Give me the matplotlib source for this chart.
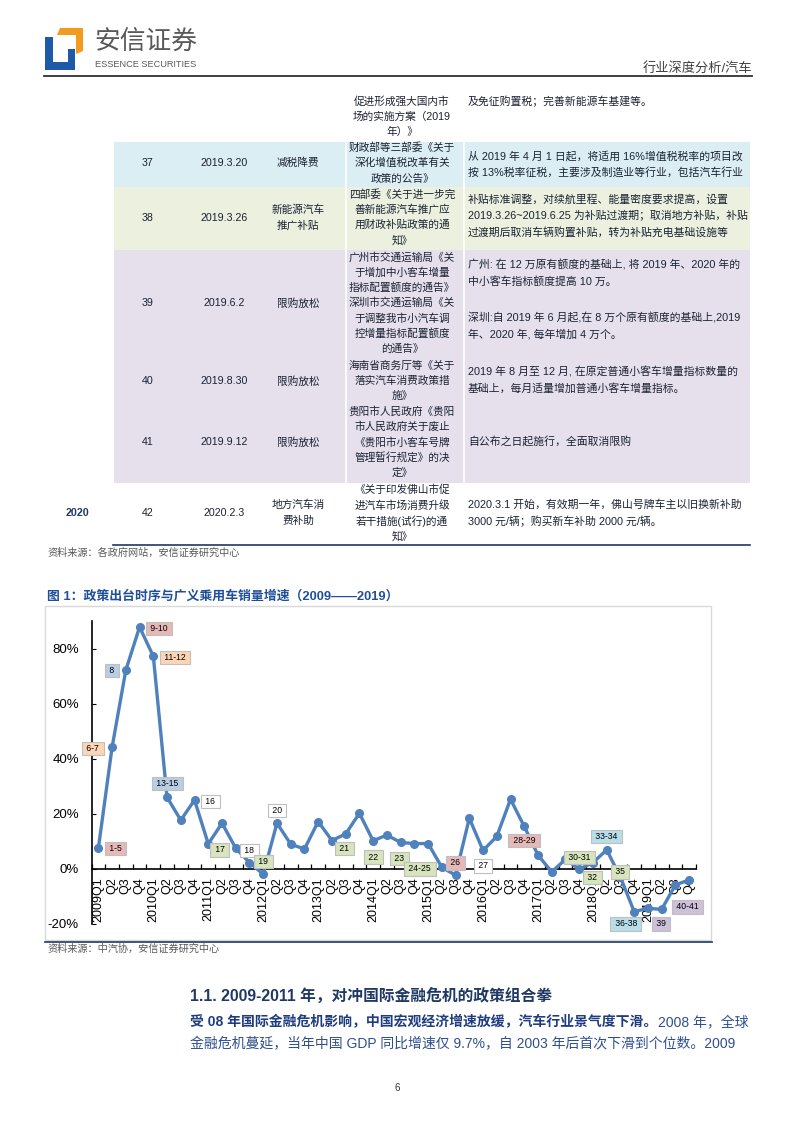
import numpy as np
import matplotlib.pyplot as plt
from matplotlib.patches import Rectangle, Polygon

plt.rcParams['font.family'] = ['Liberation Sans', 'Noto Sans CJK SC']

# ---------------- data ----------------
years = list(range(2009, 2020))
quarter_labels = []
for y in years:
    quarter_labels += [f"{y}Q1", "Q2", "Q3", "Q4"]

growth = [7.5, 44.2, 72.2, 87.8,
          77.2, 26.0, 17.7, 25.0,
          9.1, 16.6, 7.5, 2.3,
          -1.9, 16.6, 9.0, 7.2,
          17.2, 10.3, 12.7, 20.2,
          10.2, 12.3, 9.6, 9.2,
          9.2, 0.6, -2.3, 18.4,
          6.7, 11.8, 25.3, 15.4,
          5.0, -1.1, 3.5, -0.1,
          2.3, 6.9, -3.0, -15.5,
          -14.3, -14.7, -5.8, -4.0]

y_ticks = [-20, 0, 20, 40, 60, 80]
y_ticklabels = ["-20%", "0%", "20%", "40%", "60%", "80%"]

# policy number tags on the chart
tag_text = ["1-5", "6-7", "8", "9-10", "11-12", "13-15", "16", "17", "18", "19",
            "20", "21", "22", "23", "24-25", "26", "27", "28-29", "30-31", "32",
            "33-34", "35", "36-38", "39", "40-41"]
tag_x = [1.26, -0.39, 0.99, 4.41, 5.58, 5.0, 8.16, 8.83, 11.0, 12.0,
         13.0, 17.9, 20.0, 21.9, 23.4, 25.97, 28.0, 30.98, 35.0, 35.98,
         37.0, 37.97, 38.4, 40.95, 42.9]
tag_y = [7.4, 43.7, 72.1, 87.4, 76.8, 30.9, 24.4, 6.9, 6.7, 2.8,
         21.1, 7.3, 4.3, 3.7, 0.0, 2.2, 1.1, 10.4, 4.2, -3.0,
         11.8, -1.1, -20.0, -20.0, -13.8]
tag_kind = ["pink", "peach", "steel", "pink", "peach", "steel", "white", "green", "white", "green",
            "white", "green", "green", "green", "green", "pink", "white", "pink", "green", "green",
            "cyan", "green", "cyan", "lav", "lav"]
tag_colors = {"pink": "#e6b9b8", "peach": "#fcd5b5", "steel": "#b9cde5", "white": "white",
              "green": "#d7e4bd", "cyan": "#b7dee8", "lav": "#ccc0da"}

# table (continuation of row 36 + rows 37-42)
tail_policy = ["促进形成强大国内市", "场的实施方案（2019", "年）》"]
tail_detail = ["及免征购置税；完善新能源车基建等。"]
row_nums = ["37", "38", "39", "40", "41", "42"]
row_dates = ["2019.3.20", "2019.3.26", "2019.6.2", "2019.8.30", "2019.9.12", "2020.2.3"]
row_types = [["减税降费"], ["新能源汽车", "推广补贴"], ["限购放松"], ["限购放松"],
             ["限购放松"], ["地方汽车消", "费补助"]]
row_policies = [
    ["财政部等三部委《关于", "深化增值税改革有关", "政策的公告》"],
    ["四部委《关于进一步完", "善新能源汽车推广应", "用财政补贴政策的通", "知》"],
    ["广州市交通运输局《关", "于增加中小客车增量", "指标配置额度的通告》",
     "深圳市交通运输局《关", "于调整我市小汽车调", "控增量指标配置额度", "的通告》"],
    ["海南省商务厅等《关于", "落实汽车消费政策措", "施》"],
    ["贵阳市人民政府《贵阳", "市人民政府关于废止", "《贵阳市小客车号牌", "管理暂行规定》的决", "定》"],
    ["《关于印发佛山市促", "进汽车市场消费升级", "若干措施(试行)的通", "知》"],
]
row_details = [
    [["从 2019 年 4 月 1 日起，将适用 16%增值税税率的项目改",
      "按 13%税率征税，主要涉及制造业等行业，包括汽车行业"]],
    [["补贴标准调整，对续航里程、能量密度要求提高，设置",
      "2019.3.26~2019.6.25 为补贴过渡期；取消地方补贴，补贴",
      "过渡期后取消车辆购置补贴，转为补贴充电基础设施等"]],
    [["广州: 在 12 万原有额度的基础上, 将 2019 年、2020 年的",
      "中小客车指标额度提高 10 万。"],
     ["深圳:自 2019 年 6 月起,在 8 万个原有额度的基础上,2019",
      "年、2020 年, 每年增加 4 万个。"]],
    [["2019 年 8 月至 12 月, 在原定普通小客车增量指标数量的",
      "基础上，每月适量增加普通小客车增量指标。"]],
    [["自公布之日起施行，全面取消限购"]],
    [["2020.3.1 开始，有效期一年，佛山号牌车主以旧换新补助",
      "3000 元/辆；购买新车补助 2000 元/辆。"]],
]

# ---------------- page ----------------
W, H = 793, 1122
fig = plt.figure(figsize=(W / 100, H / 100), dpi=100)
page = fig.add_axes([0, 0, 1, 1])
page.set_xlim(0, W)
page.set_ylim(H, 0)
page.axis('off')

navy = '#1f3864'
txt = '#1c2233'

# header / logo
page.add_patch(Polygon([(45, 37), (53, 37), (53, 62), (68, 62), (68, 49), (75, 49),
                        (75, 70), (45, 70)], closed=True, fc='#1f5aa8', ec='none'))
page.add_patch(Polygon([(60, 28), (83, 28), (83, 51), (76, 54), (76, 35), (57, 35)],
                       closed=True, fc='#f39b1f', ec='none'))
page.text(94, 42, "安信证券", fontsize=18.5, color='#595959', va='center', ha='left',
          family='Noto Sans CJK SC')
page.text(95, 64, "ESSENCE SECURITIES", fontsize=6.6, color='#595959', va='center', ha='left')
page.text(752, 68, "行业深度分析/汽车", fontsize=9.5, color='#404040', va='center', ha='right')
page.plot([44, 752], [76, 76], color='#303030', lw=1.3)

# table backgrounds
page.add_patch(Rectangle((114, 141.5), 636, 45.5, fc='#dbeef4', ec='none', zorder=0))
page.add_patch(Rectangle((114, 187), 636, 63, fc='#ebf1de', ec='none', zorder=0))
page.add_patch(Rectangle((114, 250), 636, 233, fc='#e5e0ec', ec='none', zorder=0))
for gx in [346, 464]:
    page.plot([gx, gx], [141.5, 483], color='white', lw=1.2, zorder=0.5)


def draw_lines(x, yc, lines, step, ha='center', **kw):
    n = len(lines)
    for i, s in enumerate(lines):
        page.text(x, yc + (i - (n - 1) / 2) * step, s, ha=ha, va='center', **kw)


fs_tab = 7.7
fs_det = 7.8
draw_lines(402, 116.7, tail_policy, 15.5, fontsize=fs_tab, color=txt)
draw_lines(468, 101, tail_detail, 16.3, ha='left', fontsize=fs_det, color=txt)

row_y = [163, 217.5, 303, 381, 442, 513]
detail_y = [[164], [216], [273, 326.5], [380], [442], [513]]
for i in range(len(row_nums)):
    yc = row_y[i]
    page.text(148, yc, row_nums[i], ha='center', va='center', fontsize=fs_tab, color=txt)
    page.text(224, yc, row_dates[i], ha='center', va='center', fontsize=fs_tab, color=txt)
    draw_lines(298, yc, row_types[i], 16, fontsize=fs_tab, color=txt)
    draw_lines(402, yc, row_policies[i], 15.4, fontsize=fs_tab, color=txt)
    for para, py in zip(row_details[i], detail_y[i]):
        draw_lines(468, py, para, 16.3, ha='left', fontsize=fs_det, color=txt)
page.text(78, 513, "2020", ha='center', va='center', fontsize=fs_tab, color=navy,
          weight='bold')
page.plot([113, 750], [545, 545], color=navy, lw=1.2)
page.text(47, 553, "资料来源：各政府网站，安信证券研究中心", fontsize=7.3, color='#595959',
          va='center', ha='left')

# chart frame and title
page.text(47, 596, "图 1：政策出台时序与广义乘用车销量增速（2009——2019）", fontsize=9.3,
          weight='bold', color='#1f4e9a', va='center', ha='left')
page.add_patch(Rectangle((45, 606), 666, 334, fill=False, ec='#d9d9d9', lw=1))
page.plot([45, 712], [942, 942], color=navy, lw=1.2)
page.text(47, 949, "资料来源：中汽协，安信证券研究中心", fontsize=7.3, color='#595959',
          va='center', ha='left')

# section text
page.text(190, 996, "1.1. 2009-2011 年，对冲国际金融危机的政策组合拳", fontsize=11.3,
          weight='bold', color=navy, va='center', ha='left')
page.text(190, 1022, "受 08 年国际金融危机影响，中国宏观经济增速放缓，汽车行业景气度下滑。",
          fontsize=10, weight='bold', color='#1f3c80', va='center', ha='left')
page.text(748, 1022, "2008 年，全球", fontsize=10, color='#2f4f8f', va='center', ha='right')
page.text(190, 1044, "金融危机蔓延，当年中国 GDP 同比增速仅 9.7%，自 2003 年后首次下滑到个位数。2009",
          fontsize=10, color='#2f4f8f', va='center', ha='left')
page.text(397, 1088, "6", fontsize=7, color='#333333', va='center', ha='center')

# ---------------- chart ----------------
ax = fig.add_axes([91.5 / W, 1 - 924 / H, 604.5 / W, 303 / H])
ax.set_facecolor('none')
xs = np.arange(len(growth))
ax.plot(xs, growth, color='#4f81bd', lw=2.4, marker='o', ms=5.5, zorder=3)
ax.set_xlim(-0.5, 43.5)
ax.set_ylim(-20, 90)
ax.spines[['top', 'right']].set_visible(False)
ax.spines['bottom'].set_position(('data', 0))
ax.spines['left'].set_linewidth(1.2)
ax.spines['bottom'].set_linewidth(1.2)

ax.set_xticks(xs)
ax.set_xticklabels(quarter_labels, rotation=90, fontsize=9)
ax.tick_params(axis='x', which='major', length=0, pad=6)
ax.set_xticks(np.arange(-0.5, 44, 1), minor=True)
ax.tick_params(axis='x', which='minor', direction='in', length=3.5, width=0.9)
ax.set_yticks(y_ticks)
ax.set_yticklabels(y_ticklabels)
ax.tick_params(axis='y', direction='in', length=3, pad=9, labelsize=9.5)

for t, lx, ly, k in zip(tag_text, tag_x, tag_y, tag_kind):
    ax.text(lx, ly, f" {t} ", ha='center', va='center', fontsize=6.2, zorder=5,
            bbox=dict(boxstyle='square,pad=0.25', fc=tag_colors[k], ec='#bfbfbf', lw=0.8))

fig.savefig('out.png', dpi=100)
